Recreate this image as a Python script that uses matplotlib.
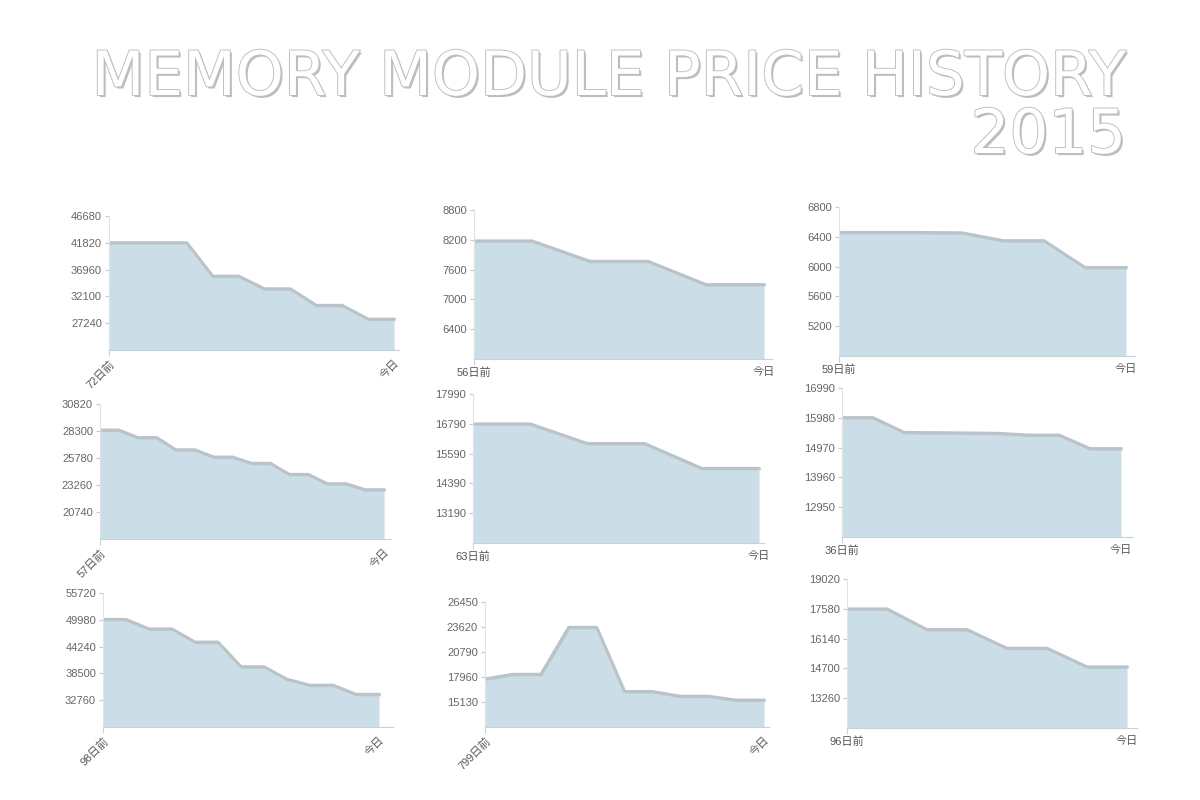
import matplotlib
matplotlib.use("Agg")
import matplotlib.pyplot as plt
import matplotlib.patheffects as pe

plt.rcParams["font.family"] = ["Liberation Sans", "Noto Sans CJK JP", "DejaVu Sans"]

# 各グラフの価格推移（読み取り値）
p1 = [41860, 41860, 41860, 41860, 35800, 35800, 33500, 33500, 30500, 30500, 28000, 28000]
p2 = [8180, 8180, 7770, 7770, 7300, 7300]
p3 = [6460, 6460, 6460, 6455, 6350, 6350, 5990, 5990]
p4 = [28400, 28400, 27700, 27700, 26560, 26560, 25880, 25880,
      25300, 25300, 24260, 24260, 23390, 23390, 22830, 22830]
p5 = [16790, 16790, 16000, 16000, 15000, 15000]
p6 = [15990, 15990, 15490, 15480, 15470, 15460, 15400, 15400, 14940, 14940]
p7 = [50090, 50090, 48050, 48050, 45230, 45230, 39950, 39950, 37280, 36000, 36000, 34040, 34040]
p8 = [17760, 18280, 18280, 23600, 23600, 16330, 16330, 15800, 15800, 15360, 15360]
p9 = [17580, 17580, 16580, 16580, 15680, 15680, 14780, 14780]

start_labels = ["72日前", "56日前", "59日前", "57日前", "63日前", "36日前", "98日前", "799日前", "96日前"]
end_label = "今日"
ytop = [46680, 8800, 6800, 30820, 17990, 16990, 55720, 26450, 19020]
ystep = [4860, 600, 400, 2520, 1200, 1010, 5740, 2830, 1440]
rotated = [True, False, False, True, False, False, True, True, False]

series = [p1, p2, p3, p4, p5, p6, p7, p8, p9]

# axes boxes in pixels: left, axis right, data right, top, bottom
boxes = [
    (109, 399, 394, 216, 350), (474, 772, 764, 210, 359), (839, 1135, 1126, 207, 356),
    (100, 391, 384, 404, 539), (473, 764, 759, 394, 543), (842, 1133, 1121, 388, 537),
    (103, 393, 379, 593, 727), (485, 769, 764, 602, 727), (847, 1137, 1127, 579, 728),
]

W, H = 1200, 800
fig = plt.figure(figsize=(12, 8), dpi=100)
fig.patch.set_facecolor("white")

fill_col = "#cbdde6"
line_col = "#bcc3c8"

for i, vals in enumerate(series):
    L, R, D, T, B = boxes[i]
    ax = fig.add_axes([L / W, 1 - B / H, (R - L) / W, (B - T) / H])
    n = len(vals)
    x = list(range(n))
    ybot = ytop[i] - 5 * ystep[i]
    ax.fill_between(x, vals, ybot, color=fill_col, lw=0)
    ax.plot(x, vals, color=line_col, lw=2.0, solid_joinstyle="round",
            path_effects=[pe.SimpleLineShadow(offset=(0.5, -0.5), shadow_color="#a0a8ae", alpha=0.4),
                          pe.Normal()])
    ax.set_xlim(0, (n - 1) * (R - L) / (D - L))
    ax.set_ylim(ybot, ytop[i])
    ax.set_yticks([ytop[i] - k * ystep[i] for k in range(5)])
    ax.tick_params(axis="y", labelsize=8, colors="#666666", length=3, color="#c8c8c8", pad=2)
    ax.set_xticks([0, n - 1])
    if rotated[i]:
        ax.set_xticklabels([start_labels[i], end_label], rotation=45, ha="right",
                           rotation_mode="anchor")
    else:
        ax.set_xticklabels([start_labels[i], end_label])
    ax.tick_params(axis="x", labelsize=8, colors="#555555", length=4, color="#c8d4dc", pad=2)
    ax.xaxis.get_major_ticks()[-1].tick1line.set_visible(False)
    for s in ["top", "right"]:
        ax.spines[s].set_visible(False)
    ax.spines["left"].set_color("#e2e2e2")
    ax.spines["bottom"].set_color("#c4d2dc")
    ax.set_facecolor("none")

title_fx = [pe.SimplePatchShadow(offset=(1.5, -1.5), shadow_rgbFace="#8a8a8a", alpha=0.55),
            pe.Stroke(linewidth=1.3, foreground="#bdbdbd"), pe.Normal()]
fig.text(1126 / W, 1 - 95 / H, "MEMORY MODULE PRICE HISTORY", ha="right", va="baseline",
         fontsize=44, family="DejaVu Sans", color="white", path_effects=title_fx)
fig.text(1126 / W, 1 - 153 / H, "2015", ha="right", va="baseline",
         fontsize=44, family="DejaVu Sans", color="white", path_effects=title_fx)

fig.savefig("out.png", dpi=100)
